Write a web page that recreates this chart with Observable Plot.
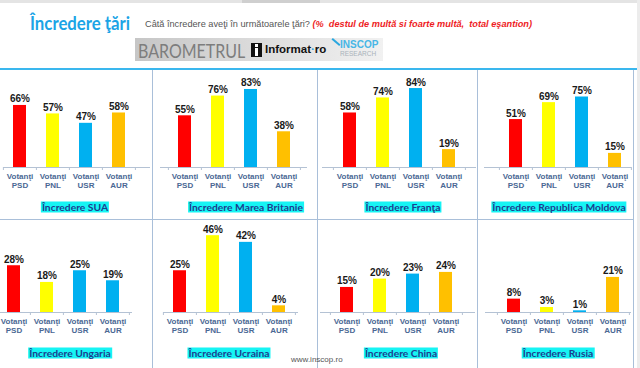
<!DOCTYPE html>
<html>
<head>
<meta charset="utf-8">
<script src="https://cdn.jsdelivr.net/npm/d3@7"></script>
<script src="https://cdn.jsdelivr.net/npm/@observablehq/plot@0.6"></script>
<style>
  html, body { margin: 0; padding: 0; background: #fff; }
  #root { position: relative; width: 640px; height: 368px; overflow: hidden; background: #fff; font-family: "Liberation Sans", Arial, sans-serif; }
  .abs { position: absolute; }
  .vsep { position: absolute; width: 1px; background: #a9bfd9; }
  .hsep { position: absolute; height: 1px; background: #a9bfd9; }
  .badge { position: absolute; transform: translate(-50%, -50%); background: #16f4f4; color: #1c3f8f; font-family: Lato, "Open Sans", sans-serif; font-weight: bold; font-size: 10.3px; line-height: 11px; padding: 0 1px; white-space: nowrap; }
  .panel { position: absolute; }
</style>
</head>
<body>
<div id="root"></div>
<script>
// ---------- data ----------
const categories = ["PSD", "PNL", "USR", "AUR"];
const countries = ["SUA", "Marea Britanie", "Franţa", "Republica Moldova", "Ungaria", "Ucraina", "China", "Rusia"];
const sua = [66, 57, 47, 58];
const mareaBritanie = [55, 76, 83, 38];
const franta = [58, 74, 84, 19];
const moldova = [51, 69, 75, 15];
const ungaria = [28, 18, 25, 19];
const ucraina = [25, 46, 42, 4];
const china = [15, 20, 23, 24];
const rusia = [8, 3, 1, 21];
const seriesValues = [sua, mareaBritanie, franta, moldova, ungaria, ucraina, china, rusia];

// ---------- styles ----------
const partyColors = ["#FF0000", "#FFFF00", "#00B0F0", "#FFC000"];
const ungariaColors = ["#FF0000", "#FFFF00", "#00B0F0", "#00B0F0"];
// layout per panel: first slot boundary, axis start, axis end, badge center x
const layout = [
  {x0: 3,   a0: 3,   a1: 150, bx: 75},
  {x0: 168, a0: 160, a1: 307, bx: 246},
  {x0: 333, a0: 322, a1: 476, bx: 403},
  {x0: 499, a0: 484, a1: 631, bx: 559},
  {x0: -3,  a0: 0,   a1: 132, bx: 70},
  {x0: 163, a0: 163, a1: 298, bx: 229},
  {x0: 330, a0: 320, a1: 475, bx: 401},
  {x0: 497, a0: 485, a1: 631, bx: 558}
];
const rows = [
  {top: 72, ymax: 100, baseline: 95, pxPerUnit: 0.94, by: 207},
  {top: 220, ymax: 50, baseline: 92, pxPerUnit: 1.67, by: 353}
];
const slot = 33.2;

const root = document.getElementById("root");
function addDiv(cls, style, html) {
  const d = document.createElement("div");
  d.className = cls;
  Object.assign(d.style, style);
  if (html != null) d.innerHTML = html;
  root.appendChild(d);
  return d;
}

// top strip (screenshot chrome)
addDiv("abs", {left: "0px", top: "0px", width: "640px", height: "3px", background: "#e4e4e4"});
addDiv("abs", {left: "242px", top: "0px", width: "78px", height: "3px", background: "#cfcfcf"});
addDiv("abs", {left: "637px", top: "0px", width: "3px", height: "368px", background: "#ececec"});

// header
addDiv("abs", {left: "30px", top: "11px", fontFamily: "Lato, sans-serif", fontWeight: "bold", fontSize: "19.5px", color: "#1ba4e6", whiteSpace: "nowrap", transform: "scaleX(0.86)", transformOrigin: "left top"}, "Încredere ţări");
addDiv("abs", {left: "145px", top: "19px", fontSize: "9.2px", color: "#555", whiteSpace: "nowrap"},
  "Câtă încredere aveţi în următoarele ţări? <span style='color:#ee1c24;font-weight:bold;font-style:italic'>(%&nbsp; destul de multă si foarte multă,&nbsp; total eşantion)</span>");

// logo banner
const logo = addDiv("abs", {left: "135px", top: "38px", width: "248px", height: "23px", background: "linear-gradient(to right, #c6c6c6, #dedede 55%, #f1f1f1)"});
logo.innerHTML =
  "<div style='position:absolute;left:3px;top:0px;font-family:Lato,sans-serif;font-size:20px;color:#7d7d7d;transform:scaleX(0.8);transform-origin:left top'>BAROMETRUL</div>" +
  "<div style='position:absolute;left:116px;top:5px;width:11px;height:14px;background:#111'><div style='position:absolute;left:4px;top:1px;width:3px;height:3px;background:#fff'></div><div style='position:absolute;left:4px;top:5px;width:3px;height:8px;background:#fff'></div></div>" +
  "<div style='position:absolute;left:130px;top:5px;font-family:\"Liberation Sans\",Arial,sans-serif;font-weight:bold;font-size:11.5px;color:#111'>Informat<span style='color:#2aa7df'>·</span>ro</div>" +
  "<div style='position:absolute;left:196px;top:3px;width:10px;height:2px;background:#2aa7df;transform:rotate(40deg)'></div>" +
  "<div style='position:absolute;left:205px;top:1px;font-family:\"Liberation Sans\",Arial,sans-serif;font-weight:bold;font-size:10px;color:#47b6e6'>INSCOP</div>" +
  "<div style='position:absolute;left:205px;top:12px;font-family:\"Liberation Sans\",Arial,sans-serif;font-size:6.5px;color:#a9b3bb'>RESEARCH</div>";

// header rule
addDiv("abs", {left: "0px", top: "68px", width: "637px", height: "2px", background: "#3ab7ee"});

// separators
[152, 317, 477, 633].forEach(x => addDiv("vsep", {left: x + "px", top: "70px", height: "298px"}));
addDiv("hsep", {left: "0px", top: "219px", width: "633px"});

// footer
addDiv("abs", {left: "291px", top: "355px", fontSize: "8px", color: "#555", whiteSpace: "nowrap"}, "www.inscop.ro");

// panels
seriesValues.forEach((vals, i) => {
  const L = layout[i];
  const R = rows[Math.floor(i / 4)];
  const colors = countries[i] === "Ungaria" ? ungariaColors : partyColors;
  const data = categories.map((c, j) => ({party: c, value: vals[j], color: colors[j]}));
  const W = L.a1 - L.a0;
  const off = L.x0 - L.a0;
  const H = 120;
  const mb = H - R.baseline;
  const mt = R.baseline - R.ymax * R.pxPerUnit;
  const chart = Plot.plot({
    width: W,
    height: H,
    marginTop: mt,
    marginBottom: mb,
    marginLeft: 0,
    marginRight: 0,
    style: {background: "transparent", overflow: "visible", fontFamily: "'Liberation Sans', Arial, sans-serif"},
    x: {type: "band", domain: [...categories, " "], range: [off, off + 5 * slot], paddingInner: 0.6, paddingOuter: 0.3, axis: null, label: null},
    y: {domain: [0, R.ymax], axis: null, label: null},
    color: {type: "identity"},
    marks: [
      Plot.barY(data, {x: "party", y: "value", fill: "color"}),
      Plot.ruleY([0], {stroke: "#b4c2d4"}),
      Plot.axisX({tickSize: 3, dx: -slot / 2, tickFormat: () => "", stroke: "#b4c2d4", label: null}),
      Plot.axisX({tickSize: 0, tickPadding: 5, tickFormat: d => d === " " ? "" : "Votanţi\n" + d, fontSize: 8, fontWeight: "bold", fill: "#4a6894", lineHeight: 1.15, label: null}),
      Plot.text(data, {x: "party", y: "value", text: d => d.value + "%", dy: -3, lineAnchor: "bottom", fontSize: 10, fontWeight: "bold", fill: "#1a1a1a"})
    ]
  });
  chart.classList.add("panel");
  chart.style.left = L.a0 + "px";
  chart.style.top = R.top + "px";
  chart.style.maxWidth = "none";
  root.appendChild(chart);
  addDiv("badge", {left: L.bx + "px", top: R.by + "px"}, "Încredere " + countries[i]);
});
</script>
</body>
</html>
